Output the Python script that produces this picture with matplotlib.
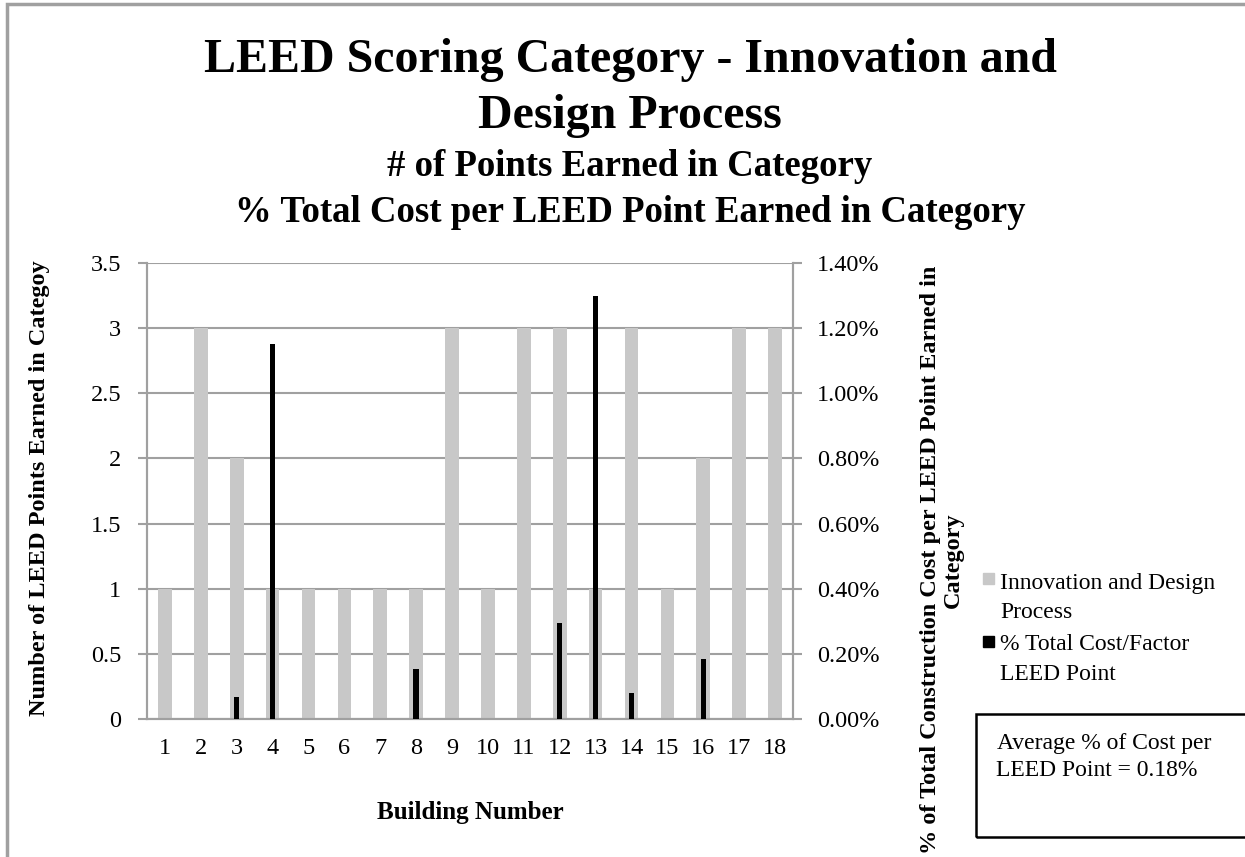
import matplotlib
matplotlib.use("Agg")
import matplotlib.pyplot as plt
from matplotlib.patches import Rectangle
import numpy as np

buildings = [str(i) for i in range(1, 19)]
points_earned = [1, 3, 2, 1, 1, 1, 1, 1, 3, 1, 3, 3, 1, 3, 1, 2, 3, 3]
pct_cost = [0.0, 0.0, 0.068, 1.15, 0.0, 0.0, 0.0, 0.153, 0.0, 0.0, 0.0, 0.294, 1.30, 0.081, 0.0, 0.183, 0.0, 0.0]
left_ticks = [0, 0.5, 1, 1.5, 2, 2.5, 3, 3.5]
left_tick_labels = ["0", "0.5", "1", "1.5", "2", "2.5", "3", "3.5"]
right_ticks = [0.0, 0.2, 0.4, 0.6, 0.8, 1.0, 1.2, 1.4]
right_tick_labels = ["0.00%", "0.20%", "0.40%", "0.60%", "0.80%", "1.00%", "1.20%", "1.40%"]

plt.rcParams['font.family'] = ['Liberation Serif', 'DejaVu Serif']

W, H = 1245, 857
fig = plt.figure(figsize=(W / 100, H / 100), dpi=100)

def fx(px):
    return px / W

def fy(py):
    return 1 - py / H

# outer chart frame
fig.patches.append(Rectangle((fx(7), fy(900)), fx(1300), fy(4) - fy(900), transform=fig.transFigure,
                             fill=False, edgecolor='#a0a0a0', linewidth=2.5))

ax = fig.add_axes([fx(147), fy(719), fx(793) - fx(147), fy(263) - fy(719)])
x = np.arange(len(buildings))
gray = '#c8c8c8'
ax.bar(x, points_earned, width=0.38, color=gray, zorder=2)
ax.set_xlim(-0.5, len(buildings) - 0.5)
ax.set_ylim(0, 3.5)
ax.set_yticks(left_ticks)
ax.set_yticklabels(left_tick_labels, fontsize=17.5)
ax.set_xticks(x)
ax.set_xticklabels(buildings, fontsize=17.5)
ax.tick_params(axis='x', length=0, pad=14)
ax.tick_params(axis='y', length=6.5, color='#a0a0a0', width=1.5, pad=12)
ax.grid(axis='y', color='#a0a0a0', linewidth=1.5, zorder=0)
ax.spines['top'].set_visible(False)
for s in ['left', 'right', 'bottom']:
    ax.spines[s].set_color('#a0a0a0')
    ax.spines[s].set_linewidth(1.5)
ax.set_axisbelow(True)

ax2 = ax.twinx()
ax2.bar(x, pct_cost, width=0.15, color='black', zorder=3)
ax2.set_ylim(0, 1.4)
ax2.set_yticks(right_ticks)
ax2.set_yticklabels(right_tick_labels, fontsize=17.5)
ax2.tick_params(axis='y', length=6.5, color='#a0a0a0', width=1.5, pad=11)
ax2.spines['top'].set_visible(False)
for s in ['left', 'right', 'bottom']:
    ax2.spines[s].set_color('#a0a0a0')
    ax2.spines[s].set_linewidth(1.5)

# titles
fig.text(fx(630), fy(60), "LEED Scoring Category - Innovation and", ha='center', va='center',
         fontsize=34.5, fontweight='bold')
fig.text(fx(630), fy(116), "Design Process", ha='center', va='center', fontsize=34.5, fontweight='bold')
fig.text(fx(630), fy(166), "# of Points Earned in Category", ha='center', va='center',
         fontsize=26.5, fontweight='bold')
fig.text(fx(630), fy(212), "% Total Cost per LEED Point Earned in Category", ha='center', va='center',
         fontsize=26.5, fontweight='bold')

# axis labels
fig.text(fx(470), fy(812), "Building Number", ha='center', va='center', fontsize=18, fontweight='bold')
fig.text(fx(40), fy(488), "Number of LEED Points Earned in Categoy", ha='center', va='center',
         rotation=90, fontsize=17.5, fontweight='bold')
fig.text(fx(942), fy(560), "% of Total Construction Cost per LEED Point Earned in\nCategory",
         ha='center', va='center', rotation=90, fontsize=17.5, fontweight='bold', linespacing=1.15)

# legend
fig.patches.append(Rectangle((fx(983), fy(584)), fx(11), fy(573) - fy(584), transform=fig.transFigure,
                             color=gray))
fig.text(fx(1000), fy(584), "Innovation and Design", ha='left', va='center', fontsize=17)
fig.text(fx(1000), fy(612), "Process", ha='left', va='center', fontsize=17)
fig.patches.append(Rectangle((fx(983), fy(647)), fx(11), fy(636) - fy(647), transform=fig.transFigure,
                             color='black'))
fig.text(fx(1000), fy(644), "% Total Cost/Factor", ha='left', va='center', fontsize=17)
fig.text(fx(1000), fy(675), "LEED Point", ha='left', va='center', fontsize=17)

# average box
fig.patches.append(Rectangle((fx(976), fy(837)), fx(400), fy(714) - fy(837), transform=fig.transFigure,
                             fill=False, edgecolor='black', linewidth=1.8))
fig.text(fx(997), fy(743), "Average % of Cost per", ha='left', va='center', fontsize=17)
fig.text(fx(996), fy(771), "LEED Point = 0.18%", ha='left', va='center', fontsize=17)

fig.savefig("out.png", dpi=100)
